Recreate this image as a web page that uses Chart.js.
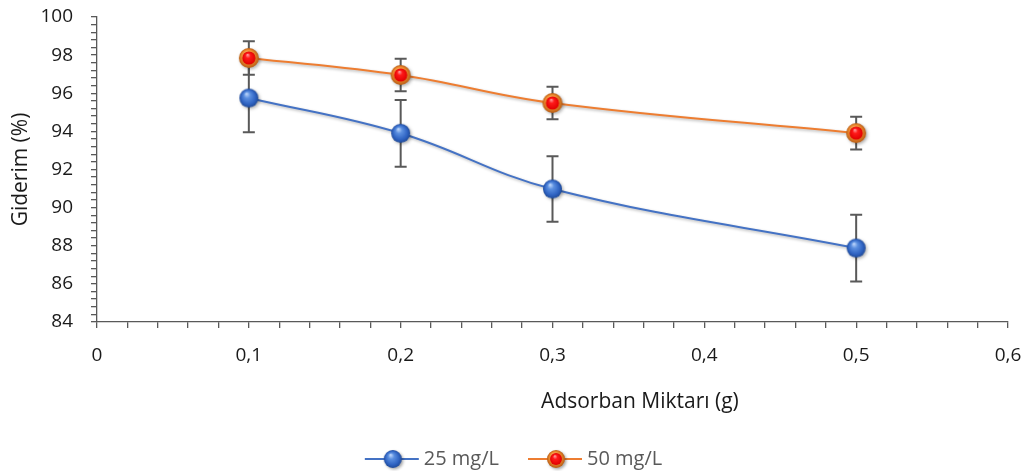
<!DOCTYPE html>
<html><head><meta charset="utf-8">
<script src="https://cdn.jsdelivr.net/npm/chart.js@4/dist/chart.umd.min.js"></script>
<style>html,body{margin:0;padding:0;background:#fff}#wrap{width:1030px;height:475px;position:relative}</style>
</head><body><div id="wrap"><canvas id="c"></canvas></div>
<script>
// ---- data ----
const xValues = [0.1, 0.2, 0.3, 0.5];
const series25 = [95.75, 93.9, 90.98, 87.88];
const err25 = [1.8, 1.75, 1.72, 1.75];
const series50 = [97.85, 96.96, 95.49, 93.91];
const err50 = [0.88, 0.85, 0.85, 0.86];
const seriesNames = ['25 mg/L', '50 mg/L'];
const yLabelValues = [84, 86, 88, 90, 92, 94, 96, 98, 100];
const xLabelValues = [0, 0.1, 0.2, 0.3, 0.4, 0.5, 0.6];
const xTitle = 'Adsorban Miktarı (g)';
const yTitle = 'Giderim (%)';

const FONT = '"Open Sans", "DejaVu Sans", sans-serif';

// ---- marker images ----
function drawSphere(g, kind, mx, cy, r, shadow) {
  g.save();
  if (shadow) {
    g.shadowColor = 'rgba(0,0,0,0.35)';
    g.shadowBlur = 3; g.shadowOffsetX = 1.5; g.shadowOffsetY = 1.5;
  }
  if (kind === 'blue') {
    const gr = g.createRadialGradient(mx - r * 0.25, cy - r * 0.45, r * 0.05, mx, cy, r);
    gr.addColorStop(0, '#b9d3fa');
    gr.addColorStop(0.3, '#5b8fe0');
    gr.addColorStop(0.75, '#2f63c2');
    gr.addColorStop(1, '#1f4a99');
    g.fillStyle = gr;
  } else {
    const gr = g.createRadialGradient(mx - r * 0.2, cy - r * 0.4, r * 0.1, mx, cy, r);
    gr.addColorStop(0, '#ffc27a');
    gr.addColorStop(0.6, '#ee8a2e');
    gr.addColorStop(1, '#b85e16');
    g.fillStyle = gr;
  }
  g.beginPath(); g.arc(mx, cy, r, 0, Math.PI * 2); g.fill();
  g.restore();
  if (kind !== 'blue') {
    const ri = r * 0.66;
    const gr2 = g.createRadialGradient(mx - ri * 0.2, cy - ri * 0.5, ri * 0.05, mx, cy, ri);
    gr2.addColorStop(0, '#ff9a9a');
    gr2.addColorStop(0.35, '#ff1a1a');
    gr2.addColorStop(1, '#e00000');
    g.fillStyle = gr2;
    g.beginPath(); g.arc(mx, cy, ri, 0, Math.PI * 2); g.fill();
  }
}
function markerCanvas(kind, r) {
  const s = Math.ceil(r * 2 + 4);
  const c = document.createElement('canvas');
  c.width = s; c.height = s;
  drawSphere(c.getContext('2d'), kind, s / 2, s / 2, r, false);
  return c;
}
function legendCanvas(kind) {
  const c = document.createElement('canvas');
  c.width = 82; c.height = 24;
  const g = c.getContext('2d');
  g.strokeStyle = kind === 'blue' ? '#4472C4' : '#ED7D31';
  g.lineWidth = 2;
  g.beginPath(); g.moveTo(26, 12); g.lineTo(80, 12); g.stroke();
  drawSphere(g, kind, 54, 12, 9, true);
  return c;
}
const blueMarker = markerCanvas('blue', 9.5);
const redMarker = markerCanvas('red', 10);
const blueLegend = legendCanvas('blue');
const redLegend = legendCanvas('red');

// ---- plugins ----
const errorArrays = [err25, err50];
const errorBars = {
  id: 'errorBars',
  beforeDatasetsDraw(chart) {
    const ctx = chart.ctx, xs = chart.scales.x, ys = chart.scales.y;
    ctx.save();
    ctx.strokeStyle = '#595959';
    ctx.lineWidth = 2;
    chart.data.datasets.forEach((ds, i) => {
      ds.data.forEach((p, j) => {
        const e = errorArrays[i][j];
        const x = xs.getPixelForValue(p.x);
        const y1 = ys.getPixelForValue(p.y + e);
        const y2 = ys.getPixelForValue(p.y - e);
        ctx.beginPath();
        ctx.moveTo(x, y1); ctx.lineTo(x, y2);
        ctx.moveTo(x - 6, y1); ctx.lineTo(x + 6, y1);
        ctx.moveTo(x - 6, y2); ctx.lineTo(x + 6, y2);
        ctx.stroke();
      });
    });
    ctx.restore();
  },
  beforeDatasetDraw(chart) {
    const ctx = chart.ctx;
    ctx.save();
    ctx.shadowColor = 'rgba(0,0,0,0.3)';
    ctx.shadowBlur = 3; ctx.shadowOffsetX = 1.5; ctx.shadowOffsetY = 1.5;
  },
  afterDatasetDraw(chart) { chart.ctx.restore(); }
};
const xTitlePlugin = {
  id: 'xTitle',
  afterDraw(chart) {
    const ctx = chart.ctx, a = chart.chartArea;
    ctx.save();
    ctx.font = '21px ' + FONT;
    ctx.fillStyle = '#1a1a1a';
    ctx.textAlign = 'center';
    ctx.textBaseline = 'middle';
    ctx.fillText(xTitle, a.left + (a.right - a.left) * 0.596, a.bottom + 80);
    ctx.restore();
  }
};

function isLabel(v, list) { return list.some(l => Math.abs(l - v) < 1e-6); }

new Chart(document.getElementById('c'), {
  type: 'line',
  data: {
    datasets: [
      { label: seriesNames[0], data: xValues.map((x, i) => ({ x, y: series25[i] })),
        borderColor: '#4472C4', borderWidth: 2, tension: 0.4, pointStyle: blueMarker, pointRadius: 10 },
      { label: seriesNames[1], data: xValues.map((x, i) => ({ x, y: series50[i] })),
        borderColor: '#ED7D31', borderWidth: 2, tension: 0.4, pointStyle: redMarker, pointRadius: 10 }
    ]
  },
  options: {
    responsive: true, maintainAspectRatio: false, animation: false,
    layout: { autoPadding: false, padding: { top: 17, right: 22, bottom: -4, left: 0 } },
    plugins: {
      tooltip: { enabled: false },
      legend: {
        position: 'bottom',
        labels: {
          usePointStyle: true, pointStyleWidth: 68, padding: 10,
          color: '#595959', font: { family: FONT, size: 20 },
          generateLabels(chart) {
            return chart.data.datasets.map((ds, i) => ({
              text: ds.label, pointStyle: i === 0 ? blueLegend : redLegend,
              fontColor: '#595959', datasetIndex: i, lineWidth: 0, strokeStyle: 'transparent', fillStyle: 'transparent'
            }));
          }
        }
      }
    },
    scales: {
      x: {
        type: 'linear', min: 0, max: 0.6,
        afterFit(s) { s.height = 117; s.paddingLeft = 0; s.paddingRight = 0; },
        ticks: {
          stepSize: 0.02, autoSkip: false, maxRotation: 0, padding: 16,
          color: '#1a1a1a', font: { family: FONT, size: 19 },
          callback: v => isLabel(v, xLabelValues) ? String(Math.round(v * 10) / 10).replace('.', ',') : ''
        },
        grid: { drawOnChartArea: false, drawTicks: true, tickLength: 6, color: '#595959', lineWidth: 1.3 },
        border: { color: '#595959', width: 1.3 }
      },
      y: {
        type: 'linear', min: 84, max: 100,
        afterFit(s) { s.width = 97; s.paddingTop = 0; s.paddingBottom = 0; },
        ticks: {
          stepSize: 0.4, autoSkip: false, padding: 18,
          color: '#1a1a1a', font: { family: FONT, size: 19 },
          callback: v => isLabel(v, yLabelValues) ? String(Math.round(v)) : ''
        },
        title: { display: true, text: yTitle, color: '#1a1a1a', font: { family: FONT, size: 21 }, padding: { top: 8, bottom: 0 } },
        grid: { drawOnChartArea: false, drawTicks: true, tickLength: 6, color: '#595959', lineWidth: 1.3 },
        border: { color: '#595959', width: 1.3 }
      }
    }
  },
  plugins: [errorBars, xTitlePlugin]
});
</script>
</body></html>
